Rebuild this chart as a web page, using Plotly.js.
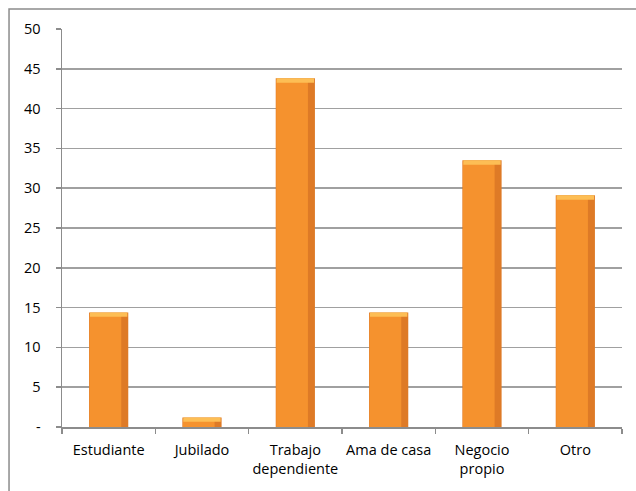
<!DOCTYPE html>
<html>
<head>
<meta charset="utf-8">
<script src="https://cdn.plot.ly/plotly-3.0.1.min.js"></script>
<style>
  html, body { margin: 0; padding: 0; background: #fff; }
  #chart { width: 636px; height: 491px; }
</style>
</head>
<body>
<div id="chart"></div>
<script>
const categories = ["Estudiante", "Jubilado", "Trabajo<br>dependiente", "Ama de casa", "Negocio<br>propio", "Otro"];
const values = [14.4, 1.2, 43.8, 14.4, 33.5, 29.1];
const tickVals = [0, 5, 10, 15, 20, 25, 30, 35, 40, 45, 50];
const tickText = ["-", "5", "10", "15", "20", "25", "30", "35", "40", "45", "50"];

const capSize = 0.55;

const outer = {
  type: "bar", x: categories, y: values, width: 0.42,
  marker: { color: "#DE7A26", line: { width: 0 } },
  hoverinfo: "skip", showlegend: false
};
const inner = {
  type: "bar", x: categories, y: values.map(v => v - 0.15), width: 0.34,
  offset: -0.205,
  marker: { color: "#F5922E", line: { width: 0 } },
  hoverinfo: "skip", showlegend: false
};
const cap = {
  type: "bar", x: categories, y: values.map(() => capSize),
  base: values.map(v => v - capSize), width: 0.40,
  marker: { color: "#FDBE55", line: { width: 0 } },
  hoverinfo: "skip", showlegend: false
};

const font = { family: "Open Sans, Liberation Sans, sans-serif", size: 14.5, color: "#000" };

const layout = {
  width: 636, height: 491,
  margin: { l: 62, r: 14, t: 29, b: 64 },
  paper_bgcolor: "#fff", plot_bgcolor: "#fff",
  barmode: "overlay",
  font: font,
  xaxis: {
    type: "category", tickangle: 0,
    showline: true, linecolor: "#8c8c8c", linewidth: 1.5,
    ticks: "outside", tickson: "boundaries", ticklen: 5, tickcolor: "#8c8c8c", tickwidth: 1.5,
    ticklabelstandoff: 9,
    tickfont: font, showgrid: false, zeroline: false, fixedrange: true
  },
  yaxis: {
    range: [0, 50], tickvals: tickVals, ticktext: tickText,
    showline: true, linecolor: "#8c8c8c", linewidth: 1.5,
    ticks: "outside", ticklen: 5, tickcolor: "#8c8c8c", tickwidth: 1.5,
    ticklabelstandoff: 12,
    showgrid: true, gridcolor: "#a0a0a0", gridwidth: 1.5,
    zeroline: false, tickfont: font, fixedrange: true
  },
  shapes: [{
    type: "rect", xref: "paper", yref: "paper",
    x0: -0.0946, x1: 1.3, y0: -0.4, y1: 1.0503,
    line: { color: "#8c8c8c", width: 1.5 }, fillcolor: "rgba(0,0,0,0)", layer: "below"
  }]
};

Plotly.newPlot("chart", [outer, inner, cap], layout, { displayModeBar: false, staticPlot: true });
</script>
</body>
</html>
